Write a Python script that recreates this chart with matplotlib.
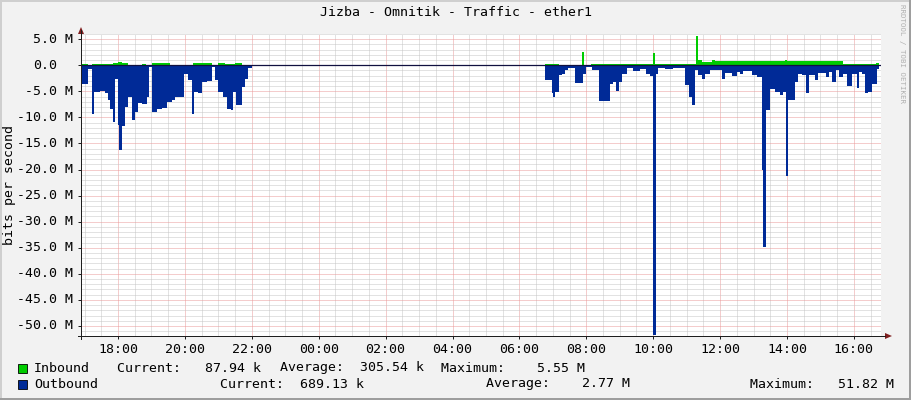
import numpy as np
import matplotlib
matplotlib.use("Agg")
import matplotlib.pyplot as plt
from matplotlib.patches import Rectangle, Polygon
from matplotlib.lines import Line2D

# ---------------- data (time in hours since midnight of day 1; 24 = 00:00 next day)
# outbound traffic, Mbit/s (plotted negative), step starts
out_start = [16.894, 16.933, 17.094, 17.232, 17.291, 17.462, 17.611, 17.710, 17.770, 17.851,
             17.910, 17.991, 18.030, 18.111, 18.209, 18.308, 18.428, 18.508, 18.589, 18.709,
             18.858, 18.927, 19.025, 19.157, 19.306, 19.456, 19.605, 19.704, 19.982, 20.102,
             20.203, 20.281, 20.401, 20.520, 20.652, 20.801, 20.900, 20.999, 21.148, 21.250,
             21.378, 21.447, 21.519, 21.698, 21.797, 21.895, 21.997, 22.096,
             30.765, 30.966, 30.996, 31.064, 31.184, 31.265, 31.363, 31.462, 31.662, 31.910,
             31.982, 32.161, 32.389, 32.709, 32.789, 32.888, 32.987, 33.058, 33.226, 33.405,
             33.605, 33.785, 33.904, 33.985, 34.075, 34.152, 34.353, 34.601, 34.951, 35.079,
             35.151, 35.249, 35.348, 35.450, 35.549, 35.698, 36.048, 36.146, 36.347, 36.496,
             36.595, 36.694, 36.945, 37.094, 37.244, 37.283, 37.372, 37.492, 37.641, 37.791,
             37.890, 37.970, 38.039, 38.239, 38.338, 38.439, 38.568, 38.667, 38.837, 38.936,
             39.166, 39.265, 39.337, 39.465, 39.564, 39.683, 39.785, 39.934, 40.084, 40.161,
             40.234, 40.332, 40.430, 40.532, 40.681]
out_mbps = [4.3, 3.5, 0.8, 9.3, 5.1, 5.0, 5.4, 6.6, 8.3, 10.9,
            2.7, 11.5, 16.2, 11.7, 8.0, 6.0, 10.5, 8.9, 7.3, 7.5,
            6.0, 0.3, 9.0, 8.3, 8.1, 7.0, 6.7, 6.0, 1.6, 2.9,
            9.3, 5.1, 5.4, 3.2, 3.0, 0.3, 2.9, 5.1, 6.0, 8.3,
            8.5, 5.1, 7.7, 4.2, 2.6, 0.6, 0.2, 0.0,
            2.9, 5.4, 6.0, 5.1, 1.9, 1.6, 1.0, 0.6, 3.4, 1.6,
            0.3, 1.0, 6.9, 3.5, 3.2, 4.9, 3.2, 1.6, 0.6, 1.1,
            0.8, 1.6, 2.1, 51.82, 1.6, 0.6, 0.8, 0.6, 3.8, 6.1,
            7.7, 1.0, 1.9, 2.6, 1.6, 1.0, 2.6, 1.5, 2.1, 1.3,
            1.7, 1.1, 1.9, 2.2, 20.0, 34.9, 8.6, 4.5, 5.1, 5.7,
            5.1, 21.3, 6.7, 3.2, 1.6, 1.9, 5.4, 1.9, 2.9, 1.5,
            2.2, 1.3, 3.2, 1.0, 2.2, 1.6, 4.0, 1.6, 4.3, 1.3,
            1.6, 5.4, 5.1, 3.5, 0.8]
out_end = 40.750

# inbound traffic, Mbit/s
in_start = [16.894, 17.103, 17.223, 17.372, 17.851, 18.000, 18.120, 18.299, 18.717, 18.837,
            19.016, 19.555, 19.973, 20.242, 20.810, 20.990, 21.199, 21.498, 21.707, 22.006,
            22.096,
            30.765, 31.184, 31.886, 31.946, 32.141, 32.410, 32.768, 33.007, 33.979, 34.054,
            34.801, 35.265, 35.348, 35.450, 35.758, 35.848, 37.940, 38.000, 39.166, 39.674,
            40.661]
in_mbps = [0.2, 0.1, 0.3, 0.2, 0.4, 0.7, 0.4, 0.15, 0.3, 0.1,
           0.35, 0.15, 0.1, 0.35, 0.15, 0.35, 0.2, 0.35, 0.15, 0.05,
           0.0,
           0.25, 0.1, 2.5, 0.1, 0.25, 0.2, 0.3, 0.2, 2.4, 0.2,
           0.3, 5.55, 1.1, 0.6, 1.1, 0.75, 1.0, 0.75, 0.8, 0.3,
           0.45]
in_end = 40.750

x_tick_hours = [18, 20, 22, 24, 26, 28, 30, 32, 34, 36, 38, 40]
x_tick_labels = ["18:00", "20:00", "22:00", "00:00", "02:00", "04:00",
                 "06:00", "08:00", "10:00", "12:00", "14:00", "16:00"]
y_tick_values = [5, 0, -5, -10, -15, -20, -25, -30, -35, -40, -45, -50]
y_tick_labels = ["5.0 M", "0.0", "-5.0 M", "-10.0 M", "-15.0 M", "-20.0 M", "-25.0 M",
                 "-30.0 M", "-35.0 M", "-40.0 M", "-45.0 M", "-50.0 M"]

legend_names = ["Inbound", "Outbound"]
legend_current = [(87.94, "k"), (689.13, "k")]
legend_average = [(305.54, "k"), (2.77, "M")]
legend_maximum = [(5.55, "M"), (51.82, "M")]

title = "Jizba - Omnitik - Traffic - ether1"
ylabel = "bits per second"
watermark = "RRDTOOL / TOBI OETIKER"

# ---------------- styling
W, H = 911, 400
BG = "#f2f2f2"
GREEN = "#00cc00"
BLUE = "#002a97"
FONT = "DejaVu Sans Mono"
FS = 9.57

def fx(px):
    return px / W

def fy(py):
    return 1 - py / H

fig = plt.figure(figsize=(W / 100, H / 100), dpi=100, facecolor=BG)

# 3D frame
fig.add_artist(Rectangle((0, fy(2)), 1, 2 / H, transform=fig.transFigure, color="#cfcfcf", lw=0))
fig.add_artist(Rectangle((0, 0), 2 / W, 1, transform=fig.transFigure, color="#cfcfcf", lw=0))
fig.add_artist(Rectangle((0, 0), 1, 2 / H, transform=fig.transFigure, color="#9e9e9e", lw=0))
fig.add_artist(Rectangle((fx(W - 2), 0), 2 / W, 1, transform=fig.transFigure, color="#9e9e9e", lw=0))

L, R, T, B = 81, 881, 34, 336
ax = fig.add_axes([fx(L), fy(B), fx(R) - fx(L), fy(T) - fy(B)])
ax.set_facecolor("white")
ax.set_xlim(16.894, 40.81)
ax.set_ylim(-51.92, 6.0)
for s in ax.spines.values():
    s.set_visible(False)

# grid
ax.set_xticks(x_tick_hours)
ax.set_xticklabels(x_tick_labels, fontfamily=FONT, fontsize=FS)
minor_x = [h / 2 for h in range(34, 82) if h % 4 != 0]
ax.set_xticks(minor_x, minor=True)
ax.set_yticks(y_tick_values)
ax.set_yticklabels([])
minor_y = [v for v in range(-51, 7) if v % 5 != 0]
ax.set_yticks(minor_y, minor=True)
ax.grid(True, which="minor", color="#c6c6c6", linewidth=0.72, linestyle=(0, (1, 1)), zorder=0)
ax.grid(True, which="major", color="#eb9a9a", linewidth=0.72, linestyle=(0, (1, 1)), zorder=0)
ax.set_axisbelow(True)
ax.tick_params(axis="x", which="major", length=2.5, width=0.72, color="#1f1f1f", pad=2.5)
ax.tick_params(axis="y", which="major", length=2.0, width=0.72, color="#1f1f1f")
ax.tick_params(which="minor", length=0)

# areas
ax.fill_between(list(in_start) + [in_end], 0, list(in_mbps) + [in_mbps[-1]],
                step="post", color=GREEN, lw=0, zorder=2)
ax.fill_between(list(out_start) + [out_end], 0, [-v for v in out_mbps] + [-out_mbps[-1]],
                step="post", color=BLUE, lw=0, zorder=2)
ax.axhline(0, color="#101040", lw=0.9, zorder=3)

# y tick labels (right aligned, zero label padded like rrdtool)
tr = ax.get_yaxis_transform()
import matplotlib.transforms as mtransforms
for v, lab in zip(y_tick_values, y_tick_labels):
    off = 0 if lab.endswith("M") else -16
    t = mtransforms.offset_copy(tr, fig=fig, x=-8 + off, y=0, units="dots")
    ax.text(0, v, lab, transform=t, ha="right", va="center", fontfamily=FONT, fontsize=FS, color="black")

# axes lines and arrows
fig.add_artist(Line2D([fx(L), fx(L)], [fy(339), fy(30)], transform=fig.transFigure, color="#1f1f1f", lw=0.72))
fig.add_artist(Line2D([fx(78), fx(885)], [fy(B), fy(B)], transform=fig.transFigure, color="#1f1f1f", lw=0.72))
fig.add_artist(Polygon([(fx(L - 3), fy(34)), (fx(L + 3), fy(34)), (fx(L), fy(27))], closed=True,
                       transform=fig.transFigure, color="#801f1f", lw=0))
fig.add_artist(Polygon([(fx(885), fy(B - 3)), (fx(885), fy(B + 3)), (fx(892), fy(B))], closed=True,
                       transform=fig.transFigure, color="#801f1f", lw=0))

# title, ylabel, watermark
fig.text(0.5, fy(12.5), title, ha="center", va="center", fontfamily=FONT, fontsize=FS)
fig.text(fx(10), fy(185), ylabel, ha="center", va="center", rotation=90, fontfamily=FONT, fontsize=FS)
fig.text(fx(902), fy(4), watermark, ha="center", va="top", rotation=270, fontfamily=FONT,
         fontsize=5.3, color="#b0b0b0")

# legend
rows_y = [368, 384]
colors = [GREEN, BLUE]
cur_x = [117, 220]
avg_x = [280, 486]
max_x = [441, 750]
for i in range(2):
    y = rows_y[i]
    fig.add_artist(Rectangle((fx(18), fy(y + 4.5)), 9 / W, 9 / H, transform=fig.transFigure,
                             facecolor=colors[i], edgecolor="black", lw=0.6))
    fig.text(fx(34), fy(y), legend_names[i], ha="left", va="center", fontfamily=FONT, fontsize=FS)
    v, u = legend_current[i]
    fig.text(fx(cur_x[i]), fy(y), f"Current:{v:8.2f} {u}", ha="left", va="center", fontfamily=FONT, fontsize=FS)
    v, u = legend_average[i]
    fig.text(fx(avg_x[i]), fy(y), f"Average:{v:8.2f} {u}", ha="left", va="center", fontfamily=FONT, fontsize=FS)
    v, u = legend_maximum[i]
    fig.text(fx(max_x[i]), fy(y), f"Maximum:{v:8.2f} {u}", ha="left", va="center", fontfamily=FONT, fontsize=FS)

fig.savefig("out.png", dpi=100, facecolor=BG)
